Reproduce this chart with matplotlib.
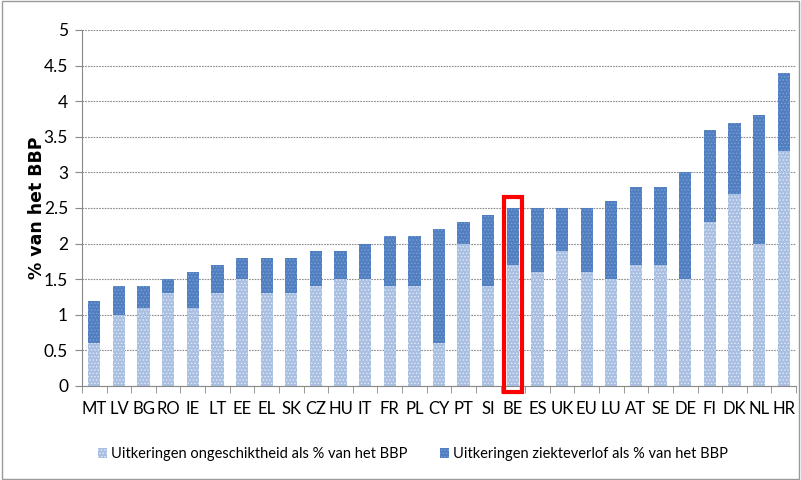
import matplotlib
matplotlib.use("Agg")
import matplotlib.pyplot as plt
from matplotlib.patches import Rectangle
import numpy as np

countries = ["MT","LV","BG","RO","IE","LT","EE","EL","SK","CZ","HU","IT","FR","PL","CY",
             "PT","SI","BE","ES","UK","EU","LU","AT","SE","DE","FI","DK","NL","HR"]
ongeschiktheid = [0.6,1.0,1.1,1.3,1.1,1.3,1.5,1.3,1.3,1.4,1.5,1.5,1.4,1.4,0.6,
                  2.0,1.4,1.7,1.6,1.9,1.6,1.5,1.7,1.7,1.5,2.3,2.7,2.0,3.3]
totaal = [1.2,1.4,1.4,1.5,1.6,1.7,1.8,1.8,1.8,1.9,1.9,2.0,2.1,2.1,2.2,
          2.3,2.4,2.5,2.5,2.5,2.5,2.6,2.8,2.8,3.0,3.6,3.7,3.8,4.4]
ziekteverlof = [t - o for t, o in zip(totaal, ongeschiktheid)]
yticks = [0, 0.5, 1, 1.5, 2, 2.5, 3, 3.5, 4, 4.5, 5]
ytick_labels = ["0", "0.5", "1", "1.5", "2", "2.5", "3", "3.5", "4", "4.5", "5"]

plt.rcParams['font.family'] = ['Lato', 'DejaVu Sans']
plt.rcParams['hatch.linewidth'] = 0.6

fig = plt.figure(figsize=(8.01, 4.80), dpi=100)
ax = fig.add_axes([82/801, 1-386/480, (796-82)/801, (386-30)/480])

x = np.arange(len(countries))
b1 = ax.bar(x, ongeschiktheid, width=0.5, color='#a8bfe2', edgecolor='#e3eaf6',
            hatch='.....', linewidth=0, label='Uitkeringen ongeschiktheid als % van het BBP')
b2 = ax.bar(x, ziekteverlof, bottom=ongeschiktheid, width=0.5, color='#4f7fc0',
            edgecolor='#7d9fd2', hatch='.....',
            linewidth=0, label='Uitkeringen ziekteverlof als % van het BBP')

ax.set_xlim(-0.5, len(countries) - 0.5)
ax.set_ylim(0, 5)
ax.set_yticks(yticks)
ax.set_yticklabels(ytick_labels, fontsize=12.5)
ax.set_xticks(x)
ax.set_xticklabels(countries, fontsize=12)
ax.tick_params(axis='x', length=0, pad=11)
ax.set_xticks(np.arange(-0.5, len(countries), 1), minor=True)
ax.tick_params(axis='x', which='minor', length=5, color='#888888')
ax.tick_params(axis='y', length=5, color='#888888', pad=5)
ax.yaxis.grid(True, linestyle=(0, (1.5, 1)), color='#8c8c8c', linewidth=0.8)
ax.set_axisbelow(True)
for s in ['top', 'right']:
    ax.spines[s].set_visible(False)
ax.spines['left'].set_color('#888888')
ax.spines['bottom'].set_color('#888888')
ax.set_ylabel('% van het BBP', fontsize=12.5, fontweight='bold', family=['DejaVu Sans'])
ax.yaxis.set_label_coords(46/801, 1-208/480, transform=fig.transFigure)

# red highlight around BE
i = countries.index("BE")
rect = Rectangle((i - 0.38, -0.08), 0.76, 2.73, fill=False, edgecolor='#ff0000',
                 linewidth=3, clip_on=False, zorder=5)
ax.add_patch(rect)

leg1 = fig.legend(handles=[b1], loc='center left', bbox_to_anchor=(98/801, 1-454/480),
                  frameon=False, fontsize=10.5, handlelength=0.6, handleheight=0.7,
                  handletextpad=0.3, borderaxespad=0, borderpad=0)
leg2 = fig.legend(handles=[b2], loc='center left', bbox_to_anchor=(440/801, 1-454/480),
                  frameon=False, fontsize=10.5, handlelength=0.6, handleheight=0.7,
                  handletextpad=0.3, borderaxespad=0, borderpad=0)

fig.patches.append(Rectangle((0.003, 0.003), 0.994, 0.994, transform=fig.transFigure,
                             fill=False, edgecolor='#9a9a9a', linewidth=1))
fig.savefig('out.png', dpi=100)
